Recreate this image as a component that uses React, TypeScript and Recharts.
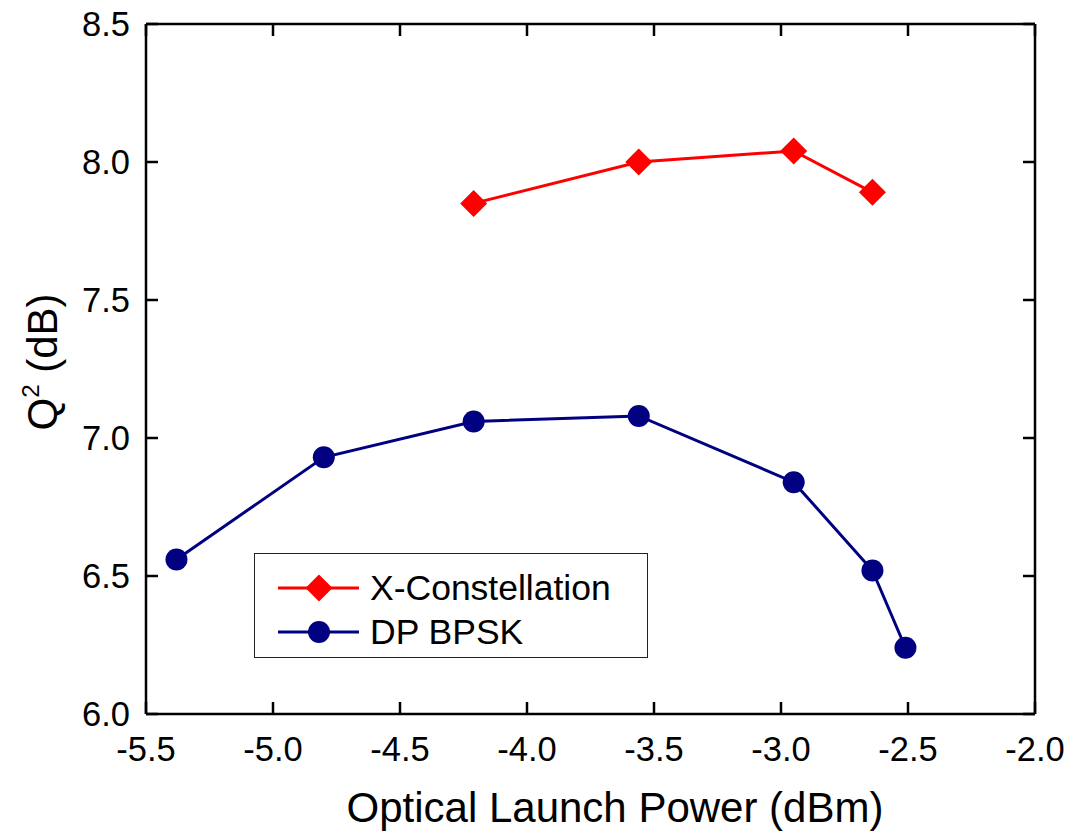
import { LineChart, Line, XAxis, YAxis, Legend, Label } from "recharts";

const FONT = '"Liberation Sans", Arial, sans-serif';

const xTicks = [-5.5, -5.0, -4.5, -4.0, -3.5, -3.0, -2.5, -2.0];
const yTicks = [6.0, 6.5, 7.0, 7.5, 8.0, 8.5];

const xConstPower = [-4.21, -3.56, -2.95, -2.64];
const xConstQ = [7.85, 8.0, 8.04, 7.89];

const bpskPower = [-5.38, -4.8, -4.21, -3.56, -2.95, -2.64, -2.51];
const bpskQ = [6.56, 6.93, 7.06, 7.08, 6.84, 6.52, 6.24];

const seriesInfo = [
  { name: "X-Constellation", color: "#ff0000", shape: "diamond" },
  { name: "DP BPSK", color: "#000080", shape: "circle" },
];

const xConstData = xConstPower.map((x, i) => ({ x, y: xConstQ[i] }));
const bpskData = bpskPower.map((x, i) => ({ x, y: bpskQ[i] }));

const Diamond = (props: any) => {
  const { cx, cy, fill, index } = props;
  if (cx == null || cy == null) return <g key={index} />;
  const r = 13.5;
  return (
    <path
      key={index}
      d={`M${cx},${cy - r} L${cx + r},${cy} L${cx},${cy + r} L${cx - r},${cy} Z`}
      fill={fill}
    />
  );
};

const Dot = (props: any) => {
  const { cx, cy, fill, index } = props;
  if (cx == null || cy == null) return <g key={index} />;
  return <circle key={index} cx={cx} cy={cy} r={11} fill={fill} />;
};

const fmt = (v: number) => v.toFixed(1);
const noTick = () => <g />;

function LegendBox() {
  return (
    <div
      style={{
        width: 392,
        height: 103,
        border: "1.5px solid #222",
        background: "#fff",
        fontFamily: FONT,
        fontSize: 35.5,
        boxSizing: "content-box",
      }}
    >
      {seriesInfo.map((s, i) => (
        <div
          key={s.name}
          style={{
            display: "flex",
            alignItems: "center",
            height: 44,
            marginTop: i === 0 ? 12 : 0,
          }}
        >
          <svg width={115} height={40} style={{ flex: "none" }}>
            <line x1={23} x2={104} y1={20} y2={20} stroke={s.color} strokeWidth={3} />
            {s.shape === "diamond" ? (
              <path d="M64,6.5 L77.5,20 L64,33.5 L50.5,20 Z" fill={s.color} />
            ) : (
              <circle cx={64} cy={20} r={11} fill={s.color} />
            )}
          </svg>
          <span style={{ color: "#000" }}>{s.name}</span>
        </div>
      ))}
    </div>
  );
}

export default function App() {
  return (
    <div style={{ position: "absolute", left: 0, top: 0, background: "#fff" }}>
      <LineChart
        width={1071}
        height={832}
        margin={{ top: 23, right: 35, bottom: 117, left: 145 }}
      >
        <XAxis
          type="number"
          dataKey="x"
          domain={[-5.5, -2.0]}
          ticks={xTicks}
          tickFormatter={fmt}
          allowDataOverflow
          height={1}
          tickSize={-12}
          tickMargin={35}
          axisLine={{ stroke: "#000", strokeWidth: 2.5 }}
          tickLine={{ stroke: "#000", strokeWidth: 2.5 }}
          tick={{ fill: "#000", fontSize: 34.5, fontFamily: FONT }}
        >
          <Label
            content={() => (
              <text
                x={615}
                y={822}
                textAnchor="middle"
                fontSize={42}
                fontFamily={FONT}
                fill="#000"
              >
                Optical Launch Power (dBm)
              </text>
            )}
          />
        </XAxis>
        <XAxis
          xAxisId="top"
          orientation="top"
          type="number"
          dataKey="x"
          domain={[-5.5, -2.0]}
          ticks={xTicks}
          allowDataOverflow
          height={1}
          tickSize={-12}
          axisLine={{ stroke: "#000", strokeWidth: 2.5 }}
          tickLine={{ stroke: "#000", strokeWidth: 2.5 }}
          tick={noTick}
        />
        <YAxis
          type="number"
          domain={[6.0, 8.5]}
          ticks={yTicks}
          tickFormatter={fmt}
          allowDataOverflow
          width={1}
          tickSize={-12}
          tickMargin={28}
          axisLine={{ stroke: "#000", strokeWidth: 2.5 }}
          tickLine={{ stroke: "#000", strokeWidth: 2.5 }}
          tick={{ fill: "#000", fontSize: 34.5, fontFamily: FONT }}
        >
          <Label
            content={() => (
              <text
                x={57}
                y={362}
                transform="rotate(-90 57 362)"
                textAnchor="middle"
                fontSize={42}
                fontFamily={FONT}
                fill="#000"
              >
                Q
                <tspan fontSize={24} dy={-18}>
                  2
                </tspan>
                <tspan dy={18}> (dB)</tspan>
              </text>
            )}
          />
        </YAxis>
        <YAxis
          yAxisId="right"
          orientation="right"
          type="number"
          domain={[6.0, 8.5]}
          ticks={yTicks}
          allowDataOverflow
          width={1}
          tickSize={-12}
          axisLine={{ stroke: "#000", strokeWidth: 2.5 }}
          tickLine={{ stroke: "#000", strokeWidth: 2.5 }}
          tick={noTick}
        />
        <Legend
          layout="horizontal"
          verticalAlign="middle"
          content={() => <LegendBox />}
          wrapperStyle={{ position: "absolute", left: 254, top: 553, width: "auto", bottom: "auto" }}
        />
        <Line
          name={seriesInfo[0].name}
          data={xConstData}
          dataKey="y"
          stroke={seriesInfo[0].color}
          fill={seriesInfo[0].color}
          strokeWidth={3}
          dot={<Diamond />}
          activeDot={false}
          isAnimationActive={false}
        />
        <Line
          name={seriesInfo[1].name}
          data={bpskData}
          dataKey="y"
          stroke={seriesInfo[1].color}
          fill={seriesInfo[1].color}
          strokeWidth={3}
          dot={<Dot />}
          activeDot={false}
          isAnimationActive={false}
        />
      </LineChart>
    </div>
  );
}
